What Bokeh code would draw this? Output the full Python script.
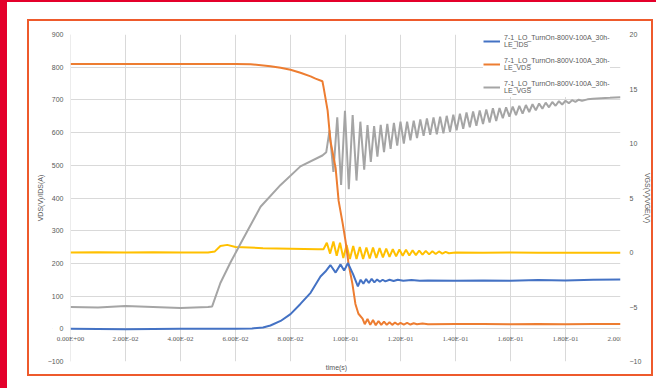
from bokeh.plotting import figure
from bokeh.models import (Range1d, LinearAxis, FixedTicker, Legend, LegendItem, LabelSet,
                          ColumnDataSource, BoxAnnotation)
from bokeh.embed import file_html
from bokeh.resources import INLINE

FONT = "Liberation Sans"

# ---------------- data ----------------
x_ticks = [0.0, 0.02, 0.04, 0.06, 0.08, 0.10, 0.12, 0.14, 0.16, 0.18, 0.20]
x_tick_labels = ["0.00E+00", "2.00E-02", "4.00E-02", "6.00E-02", "8.00E-02", "1.00E-01",
                 "1.20E-01", "1.40E-01", "1.60E-01", "1.80E-01", "2.00E-01"]
left_ticks = [-100, 0, 100, 200, 300, 400, 500, 600, 700, 800, 900]
right_ticks = [-10, -5, 0, 5, 10, 15, 20]

legend_labels = ["7-1_LO_TurnOn-800V-100A_30h-\nLE_IDS",
                 "7-1_LO_TurnOn-800V-100A_30h-\nLE_VDS",
                 "7-1_LO_TurnOn-800V-100A_30h-\nLE_VGS"]

# blue: current (left axis)
ids_t = [0.0, 0.02, 0.04, 0.06, 0.066, 0.070, 0.0727, 0.0764, 0.080, 0.0836, 0.0873, 0.0909,
         0.0927, 0.0945, 0.0964, 0.0982, 0.0995, 0.1009, 0.1027, 0.1045, 0.1055, 0.1065, 0.1075,
         0.1085, 0.1095, 0.1105, 0.1115, 0.1125, 0.1135, 0.1145, 0.1160, 0.1175, 0.119, 0.121,
         0.124, 0.127, 0.13, 0.14, 0.15, 0.16, 0.17, 0.18, 0.19, 0.2]
ids_v = [0, -1, 0, 0, 1, 4, 10, 24, 45, 76, 110, 160,
         175, 195, 172, 197, 178, 201, 168, 130, 150, 138, 152,
         140, 153, 142, 151, 144, 150, 145, 150, 146, 150, 147,
         149, 147, 148, 147, 148, 147, 149, 148, 150, 151]

# orange: drain voltage (left axis)
vds_t = [0.0, 0.02, 0.04, 0.06, 0.0655, 0.0727, 0.0764, 0.080, 0.0836, 0.0873, 0.0891, 0.0916,
         0.0920, 0.0935, 0.0945, 0.0964, 0.0975, 0.099, 0.100, 0.1011, 0.1025, 0.1036, 0.1047,
         0.1062, 0.1070, 0.1080, 0.1090, 0.1100, 0.1110, 0.1120, 0.1130, 0.1140, 0.1150, 0.1160,
         0.1170, 0.1180, 0.1190, 0.1200, 0.1212, 0.1224, 0.1236, 0.1248, 0.126, 0.128, 0.13,
         0.14, 0.15, 0.16, 0.17, 0.18, 0.19, 0.2]
vds_v = [810, 810, 810, 810, 809, 803, 798, 792, 783, 772, 765, 757,
         740, 667, 575, 492, 391, 321, 269, 199, 138, 76, 46,
         31, 14, 30, 12, 27, 11, 24, 12, 22, 12, 20,
         12, 19, 13, 18, 13, 18, 13, 17, 14, 16, 14,
         15, 15, 14, 15, 14, 15, 15]

# gray: gate voltage (right axis)
vgs_t = [0.0, 0.01, 0.02, 0.03, 0.04, 0.05, 0.0515, 0.0545, 0.0582, 0.0618, 0.0691, 0.0764,
         0.0836, 0.0916, 0.0930, 0.0942, 0.0956, 0.0970, 0.0984, 0.0998, 0.1012, 0.1026, 0.1040,
         0.1054, 0.1068, 0.1080, 0.1092, 0.1104, 0.1116, 0.1128, 0.1140, 0.1152, 0.1164, 0.1176,
         0.1188, 0.1200, 0.1212, 0.1224, 0.1236, 0.1248, 0.1260, 0.1272, 0.1284, 0.1296, 0.1308,
         0.1320, 0.1332, 0.1344, 0.1356, 0.1368, 0.1380, 0.1392, 0.1404, 0.1416, 0.1428, 0.1440,
         0.1452, 0.1464, 0.1476, 0.1488, 0.1500, 0.1512, 0.1524, 0.1536, 0.1548, 0.1560, 0.1572,
         0.1584, 0.1596, 0.1608, 0.1620, 0.1632, 0.1644, 0.1656, 0.1668, 0.1680, 0.1692, 0.1704,
         0.1716, 0.1728, 0.1740, 0.1752, 0.1764, 0.1776, 0.1788, 0.1800, 0.1812, 0.1824, 0.1836,
         0.1848, 0.186, 0.188, 0.19, 0.193, 0.196, 0.2]
vgs_v = [-5.0, -5.05, -4.9, -5.0, -5.1, -5.0, -4.95, -2.8, -0.9, 0.8, 4.2, 6.2,
         7.9, 8.9, 9.2, 11.2, 7.4, 12.4, 6.2, 13.0, 5.8, 12.6, 6.6,
         12.0, 7.6, 11.7, 8.3, 11.6, 8.8, 11.7, 9.2, 11.8, 9.5, 11.9,
         9.8, 12.0, 10.0, 12.0, 10.3, 12.1, 10.5, 12.2, 10.7, 12.3, 10.8,
         12.4, 10.85, 12.45, 10.93, 12.54, 11.07, 12.64, 11.21, 12.74, 11.35, 12.84,
         11.49, 12.94, 11.63, 13.04, 11.78, 13.13, 11.92, 13.23, 12.06, 13.25, 12.32,
         13.32, 12.47, 13.39, 12.61, 13.46, 12.75, 13.53, 12.89, 13.60, 13.04, 13.67,
         13.18, 13.75, 13.32, 13.81, 13.46, 13.88, 13.58, 13.92, 13.70, 13.97, 13.82,
         14.02, 13.92, 14.05, 14.1, 14.15, 14.2, 14.25]

# yellow: second gate voltage (right axis)
vgl_t = [0.0, 0.01, 0.02, 0.03, 0.04, 0.05, 0.0525, 0.0545, 0.057, 0.06, 0.065, 0.07, 0.08, 0.09,
         0.092, 0.0932, 0.0944, 0.0956, 0.0968, 0.098, 0.0992, 0.1004, 0.1016, 0.1028, 0.104,
         0.1052, 0.1064, 0.1076, 0.1088, 0.11, 0.1112, 0.1124, 0.1136, 0.1148, 0.116, 0.1172,
         0.1184, 0.1196, 0.1208, 0.122, 0.1232, 0.1244, 0.1256, 0.1268, 0.128, 0.1292, 0.1304,
         0.1316, 0.1328, 0.134, 0.1352, 0.1364, 0.1376, 0.14, 0.15, 0.16, 0.17, 0.18, 0.19, 0.2]
vgl_v = [0.0, 0.02, 0.0, 0.02, 0.0, 0.0, 0.1, 0.6, 0.7, 0.5, 0.45, 0.4, 0.35, 0.3,
         0.3, 0.9, -0.1, 1.0, -0.3, 0.9, -0.5, 0.7, -0.6, 0.6, -0.6,
         0.5, -0.6, 0.45, -0.55, 0.45, -0.5, 0.4, -0.45, 0.35, -0.4, 0.3,
         -0.35, 0.28, -0.3, 0.25, -0.27, 0.2, -0.24, 0.18, -0.2, 0.15, -0.17,
         0.12, -0.14, 0.1, -0.1, 0.06, -0.07, 0.0, -0.02, 0.0, -0.03, -0.02, -0.03, -0.03]

BLUE = "#4472C4"
ORANGE = "#ED7D31"
GRAY = "#A5A5A5"
YELLOW = "#FFC000"
GRID = "#D9D9D9"
TXT = "#595959"
RED = "#E4002B"
FRAME = "#EE5A2C"

bg_layers = [
    f"linear-gradient({RED},{RED}) 0px 0px / 7px 388px no-repeat",
    f"linear-gradient({RED},{RED}) 0px 0px / 656px 2px no-repeat",
    f"linear-gradient({FRAME},{FRAME}) 27px 19px / 626px 2px no-repeat",
    f"linear-gradient({FRAME},{FRAME}) 27px 374px / 626px 2px no-repeat",
    f"linear-gradient({FRAME},{FRAME}) 27px 19px / 2px 357px no-repeat",
    f"linear-gradient({FRAME},{FRAME}) 651px 19px / 2px 357px no-repeat",
    "white",
]

# frame extended 18px to the left of t=0 so the first tick label is not clipped
X0 = -0.00655
p = figure(width=656, height=388, output_backend="svg", toolbar_location=None,
           x_range=Range1d(X0, 0.2), y_range=Range1d(-100, 900),
           min_border_left=52, min_border_right=36, min_border_top=34, min_border_bottom=27)
p.styles = {"background": ", ".join(bg_layers)}
p.extra_y_ranges = {"right": Range1d(-10, 20)}
p.background_fill_color = "white"
p.border_fill_alpha = 0
p.outline_line_color = None

# axes
p.xaxis.ticker = FixedTicker(ticks=[])
p.xaxis.axis_line_color = None
p.xaxis.major_tick_line_color = None
p.xaxis.minor_tick_line_color = None
p.xaxis.major_tick_out = 0
p.xaxis.axis_label = "time(s)"
p.xaxis.axis_label_standoff = 2
p.xaxis.axis_label_text_font_size = "7px"
p.xaxis.axis_label_text_font_style = "normal"
p.xaxis.axis_label_text_color = TXT
p.xaxis.axis_label_text_font = FONT

p.yaxis.ticker = FixedTicker(ticks=left_ticks)
p.yaxis.axis_line_color = None
p.yaxis.major_tick_line_color = None
p.yaxis.minor_tick_line_color = None
p.yaxis.major_tick_out = 0
p.yaxis.major_tick_in = 0
p.yaxis.major_label_text_font_size = "7px"
p.yaxis.major_label_text_color = TXT
p.yaxis.major_label_text_font = FONT
p.yaxis.major_label_standoff = -11
p.yaxis.axis_label = "VDS(V)/IDS(A)"
p.yaxis.axis_label_standoff = 1
p.yaxis.axis_label_text_font_size = "7px"
p.yaxis.axis_label_text_font_style = "normal"
p.yaxis.axis_label_text_color = TXT
p.yaxis.axis_label_text_font = FONT

ry = LinearAxis(y_range_name="right", ticker=FixedTicker(ticks=right_ticks))
ry.axis_line_color = None
ry.major_tick_line_color = None
ry.minor_tick_line_color = None
ry.major_label_text_font_size = "7px"
ry.major_label_text_color = TXT
ry.major_label_text_font = FONT
ry.major_label_standoff = 3
ry.axis_label = "VGS(V)/VGE(V)"
ry.axis_label_standoff = 0
ry.axis_label_text_font_size = "7px"
ry.axis_label_text_font_style = "normal"
ry.axis_label_text_color = TXT
ry.axis_label_text_font = FONT
p.add_layout(ry, "right")

# grid (the outer gridlines form the plot-area edges)
p.xgrid.ticker = FixedTicker(ticks=x_ticks)
p.ygrid.ticker = FixedTicker(ticks=left_ticks)
p.xgrid.grid_line_color = GRID
p.ygrid.grid_line_color = GRID

# white strip hiding the grid left of t=0
p.add_layout(BoxAnnotation(right=0, fill_color="white", fill_alpha=1, line_color=None,
                           level="glyph"))

# x tick labels placed along the zero line (Excel style)
tick_src = ColumnDataSource(dict(x=x_ticks, y=[0] * len(x_ticks), text=x_tick_labels))
p.add_layout(LabelSet(x="x", y="y", text="text", source=tick_src, text_align="center",
                      text_baseline="top", y_offset=-6, text_font_size="7px", text_color=TXT,
                      text_font=FONT))

# series
r_vgl = p.line(vgl_t, vgl_v, y_range_name="right", line_color=YELLOW, line_width=2)
r_vgs = p.line(vgs_t, vgs_v, y_range_name="right", line_color=GRAY, line_width=2)
r_vds = p.line(vds_t, vds_v, line_color=ORANGE, line_width=2)
r_ids = p.line(ids_t, ids_v, line_color=BLUE, line_width=2)

legend = Legend(items=[LegendItem(label=legend_labels[0], renderers=[r_ids]),
                       LegendItem(label=legend_labels[1], renderers=[r_vds]),
                       LegendItem(label=legend_labels[2], renderers=[r_vgs])],
                location=(431, 264))
legend.label_text_font_size = "7px"
legend.label_text_color = TXT
legend.label_text_font = FONT
legend.glyph_width = 17
legend.glyph_height = 20
legend.label_height = 20
legend.label_standoff = 4
legend.spacing = 3
legend.padding = 2
legend.margin = 0
legend.border_line_color = None
legend.background_fill_color = "white"
legend.background_fill_alpha = 1.0
p.add_layout(legend)

open("out.html", "w").write(file_html(p, INLINE))
